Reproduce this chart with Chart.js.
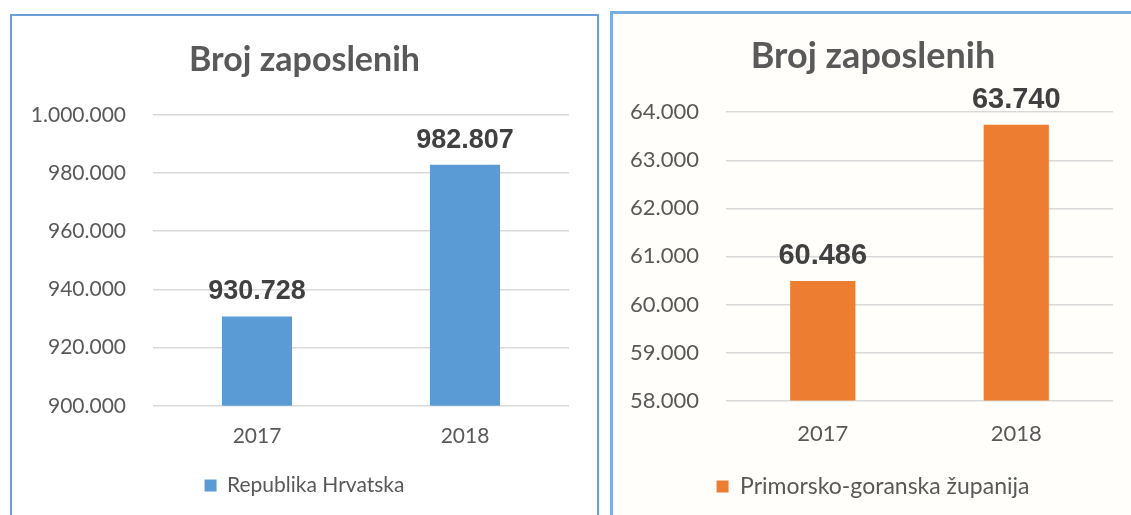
<!DOCTYPE html>
<html>
<head>
<meta charset="utf-8">
<script src="https://cdn.jsdelivr.net/npm/chart.js@4/dist/chart.umd.min.js"></script>
<style>
  body { margin: 0; background: #fff; width: 1131px; height: 515px; overflow: hidden; position: relative; }
  .panel { position: absolute; box-sizing: border-box; }
  #panelLeft { left: 10px; top: 14px; width: 589px; height: 520px; border: 2px solid #6b9fd6; background: #fff; }
  #panelRight { left: 610px; top: 11px; width: 540px; height: 520px; border: 3px solid #7aaee0; border-right: none; background: #fffefb; }
  canvas { position: absolute; }
  #chartLeft { left: 12px; top: 16px; }
  #chartRight { left: 615px; top: 15px; }
</style>
</head>
<body>
<div class="panel" id="panelLeft"></div>
<div class="panel" id="panelRight"></div>
<canvas id="chartLeft" width="585" height="499"></canvas>
<canvas id="chartRight" width="516" height="500"></canvas>
<script>
// Data
const years = ["2017", "2018"];
const hrvatska = [930728, 982807];
const pgz = [60486, 63740];
const titleText = "Broj zaposlenih";
const labelHr = "Republika Hrvatska";
const labelPgz = "Primorsko-goranska županija";

const blue = "#5b9bd5";
const orange = "#ed7d31";

function fmt(v) {
  return String(v).replace(/\B(?=(\d{3})+(?!\d))/g, ".");
}

// value labels above bars
const valueLabels = {
  id: "valueLabels",
  afterDatasetsDraw(chart, args, opts) {
    const ctx = chart.ctx;
    ctx.save();
    ctx.font = "bold " + opts.size + "px 'Liberation Sans', Arial, sans-serif";
    ctx.fillStyle = "#404040";
    ctx.textAlign = "center";
    ctx.textBaseline = "alphabetic";
    chart.getDatasetMeta(0).data.forEach((bar, i) => {
      ctx.fillText(fmt(chart.data.datasets[0].data[i]), bar.x, bar.y - 17);
    });
    ctx.restore();
  }
};

function makeChart(id, label, values, color, yMin, yMax, step, o) {
  return new Chart(document.getElementById(id), {
    type: "bar",
    data: {
      labels: years,
      datasets: [{
        label: label,
        data: values,
        backgroundColor: color,
        barPercentage: 0.337,
        categoryPercentage: 1
      }]
    },
    options: {
      responsive: false,
      animation: false,
      layout: { padding: { left: 0, right: 0, top: 0, bottom: o.bottom } },
      plugins: {
        title: {
          display: true,
          text: titleText,
          color: "#595959",
          font: { family: "Lato", size: o.titleSize, weight: "bold", lineHeight: 1.2 },
          padding: o.title
        },
        legend: {
          position: "bottom",
          labels: {
            color: "#595959",
            font: { family: "Lato", size: o.legendSize },
            boxWidth: 12,
            boxHeight: 12,
            padding: 16
          }
        },
        tooltip: { enabled: false },
        valueLabels: { size: o.valueSize }
      },
      scales: {
        x: {
          grid: { display: false },
          border: { display: false },
          ticks: { color: "#595959", font: { family: "Lato", size: o.tickSize }, padding: o.xTick }
        },
        y: {
          min: yMin,
          max: yMax,
          border: { display: false },
          grid: { color: "#d9d9d9", lineWidth: 1.5, drawTicks: false },
          ticks: {
            stepSize: step,
            padding: 27,
            color: "#595959",
            font: { family: "Lato", size: o.tickSize },
            callback: v => fmt(v)
          },
          afterFit: s => { s.width = o.yWidth; }
        },
        // empty right margin so title and legend stay centred on the panel
        spacer: {
          type: "linear",
          position: "right",
          grid: { display: false },
          border: { display: false },
          ticks: { display: false },
          afterFit: s => { s.width = o.rightGap; }
        }
      }
    },
    plugins: [valueLabels]
  });
}

makeChart("chartLeft", labelHr, hrvatska, blue, 900000, 1000000, 20000, {
  yWidth: 141, rightGap: 28, bottom: 9,
  title: { top: 24, bottom: 34 },
  titleSize: 34, legendSize: 21, tickSize: 21, valueSize: 27, xTick: 10
});
makeChart("chartRight", labelPgz, pgz, orange, 58000, 64000, 1000, {
  yWidth: 111, rightGap: 18, bottom: 7,
  title: { top: 20, bottom: 34 },
  titleSize: 36, legendSize: 23, tickSize: 22, valueSize: 29, xTick: 12
});
</script>
</body>
</html>
